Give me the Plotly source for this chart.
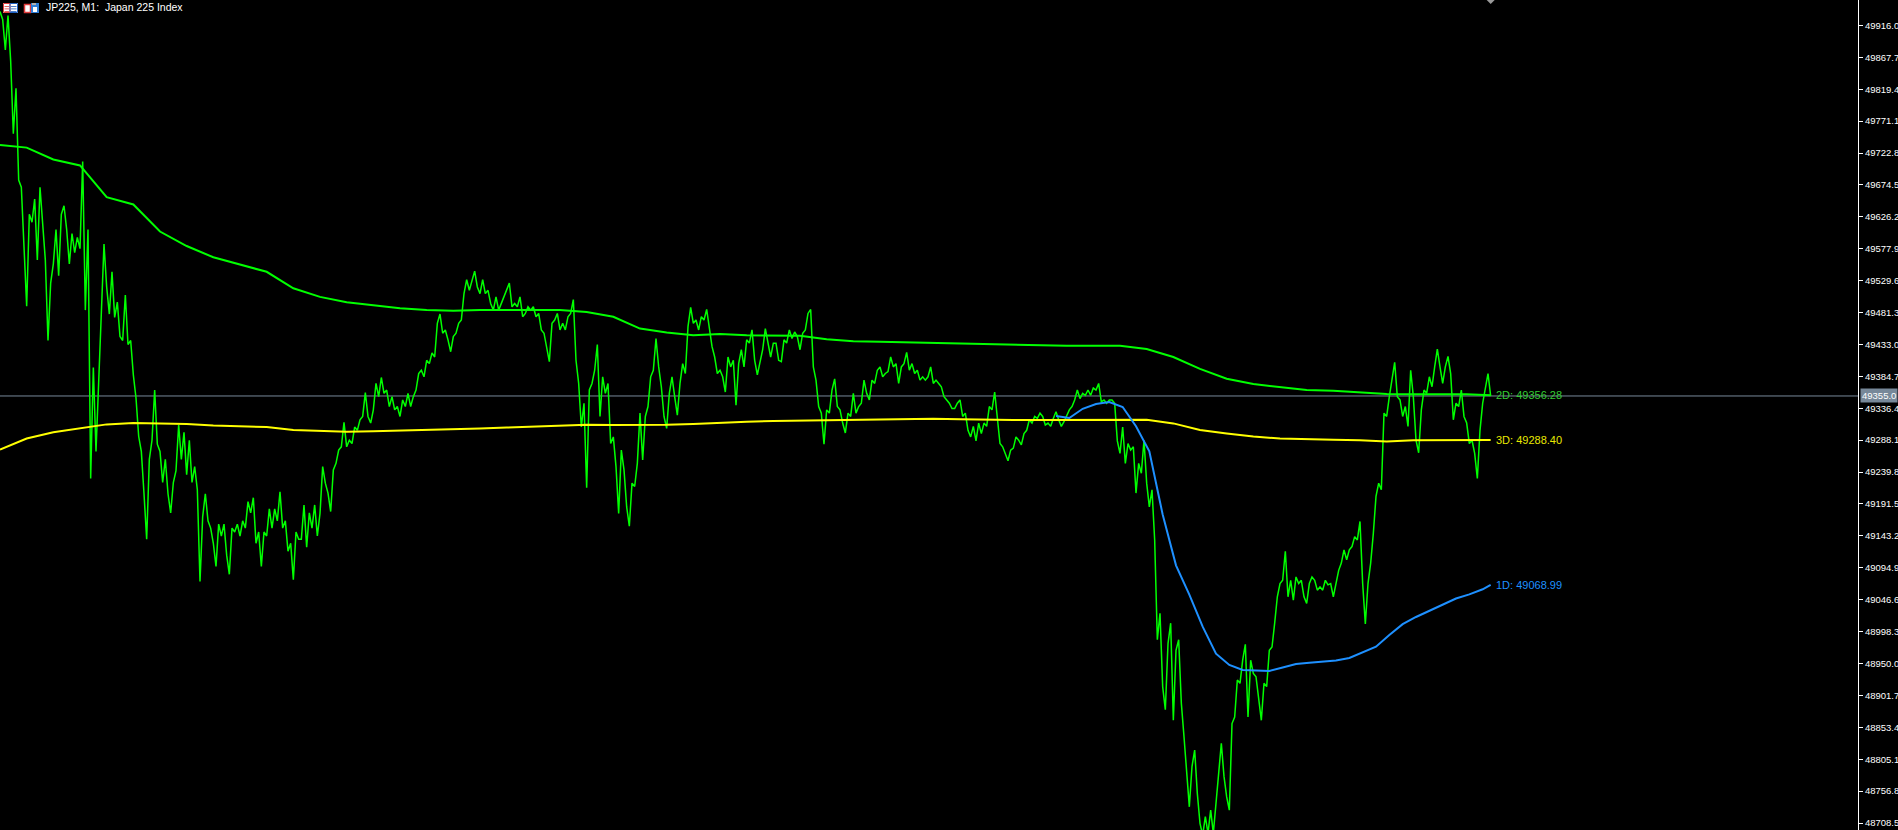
import plotly.graph_objects as go

# JP225 M1 line chart, MetaTrader look: black background, price scale on the right

close = [
    49937, 49925, 49879, 49931, 49862, 49752, 49821, 49682,
    49671, 49572, 49491, 49630, 49618, 49653, 49561, 49671,
    49607, 49561, 49439, 49526, 49555, 49607, 49537, 49630,
    49643, 49607, 49555, 49601, 49572, 49595, 49578, 49710,
    49485, 49607, 49230, 49398, 49271, 49381, 49462, 49585,
    49520, 49479, 49543, 49474, 49497, 49445, 49439, 49508,
    49433, 49439, 49387, 49352, 49294, 49271, 49207, 49138,
    49259, 49288, 49364, 49282, 49271, 49224, 49259, 49207,
    49178, 49224, 49242, 49311, 49259, 49300, 49236, 49288,
    49224, 49248, 49213, 49074, 49172, 49207, 49166, 49155,
    49132, 49097, 49161, 49143, 49161, 49114, 49085, 49155,
    49149, 49161, 49143, 49166, 49155, 49195, 49178, 49201,
    49132, 49149, 49097, 49149, 49143, 49184, 49155, 49184,
    49166, 49210, 49155, 49166, 49120, 49132, 49077, 49149,
    49138, 49138, 49190, 49126, 49178, 49155, 49190, 49143,
    # rally back towards the 2D line
    49177, 49248, 49223, 49208, 49180, 49243, 49253, 49273,
    49278, 49315, 49278, 49288, 49283, 49308, 49303, 49319,
    49324, 49360, 49324, 49314, 49334, 49374, 49354, 49383,
    49359, 49364, 49339, 49354, 49334, 49339, 49324, 49349,
    49339, 49359, 49339, 49354, 49364, 49389, 49394, 49384,
    49409, 49404, 49420, 49414, 49465, 49479, 49450, 49455,
    49440, 49422, 49445, 49450, 49465, 49470, 49510, 49531,
    49515, 49531, 49544, 49520, 49510, 49531, 49510, 49515,
    49495, 49485, 49505, 49485, 49495, 49505, 49515, 49526,
    49490, 49495, 49490, 49505, 49475, 49480, 49490, 49485,
    49490, 49475, 49480, 49455, 49450, 49430, 49407, 49465,
    49470, 49480, 49455, 49465, 49455, 49475, 49480, 49501,
    49409, 49374, 49308, 49344, 49216, 49364, 49374, 49394,
    49433, 49324, 49384, 49359, 49374, 49283, 49293, 49248,
    49177, 49273, 49243, 49187, 49158, 49223, 49218, 49253,
    49329, 49258, 49324, 49339, 49384, 49394, 49442, 49399,
    49369, 49324, 49306, 49359, 49384, 49354, 49326, 49374,
    49404, 49389, 49460, 49489, 49465, 49470, 49455,
    # sideways around the 3D line
    49475, 49470, 49486, 49460, 49430, 49414, 49389, 49394,
    49384, 49361, 49414, 49399, 49409, 49341, 49404, 49425,
    49399, 49440, 49435, 49455, 49409, 49387, 49409, 49425,
    49457, 49435, 49414, 49435, 49435, 49409, 49407, 49440,
    49435, 49455, 49442, 49452, 49445, 49425, 49450, 49455,
    49480, 49486, 49399, 49379, 49339, 49329, 49282, 49334,
    49329, 49364, 49381, 49339, 49334, 49314, 49299, 49329,
    49324, 49359, 49329, 49339, 49344, 49379, 49359, 49349,
    49379, 49374, 49394, 49399, 49384, 49389, 49392, 49414,
    49399, 49404, 49374, 49399, 49404, 49421, 49394, 49404,
    49389, 49394, 49379, 49384, 49379, 49384, 49399, 49374,
    49379, 49374, 49369, 49354, 49349, 49344, 49336, 49336,
    49344, 49349, 49324, 49329, 49303, 49293, 49309, 49287,
    49314, 49298, 49314, 49309, 49339, 49334, 49361, 49324,
    49283, 49278, 49268, 49257, 49273, 49276, 49293, 49288,
    49281, 49298, 49303, 49319, 49314, 49324, 49321, 49329,
    49324, 49311, 49314, 49309, 49321, 49331, 49319, 49309,
    49316, 49324, 49334, 49339, 49349, 49364, 49351, 49359,
    49356, 49364, 49356, 49367, 49364, 49374, 49346, 49349,
    49344, 49349, 49349, 49344, 49287,
    # sell-off and recovery
    49268, 49308, 49253, 49283, 49273, 49278, 49208, 49253,
    49238, 49288, 49223, 49187, 49213, 49137, 48986, 49026,
    48915, 48880, 48980, 49011, 48864, 48970, 48986, 48890,
    48839, 48779, 48733, 48794, 48819, 48753, 48708, 48690,
    48718, 48693, 48728, 48693, 48738, 48794, 48829, 48779,
    48748, 48728, 48859, 48869, 48925, 48920, 48955, 48979,
    48869, 48955, 48935, 48930, 48900, 48864, 48920, 48915,
    48970, 48975, 49011, 49051, 49071, 49076, 49120, 49051,
    49076, 49046, 49081, 49071, 49076, 49051, 49041, 49071,
    49081, 49076, 49061, 49066, 49061, 49076, 49069, 49071,
    49051, 49071, 49091, 49102, 49122, 49107, 49122, 49127,
    49142, 49137, 49165, 49071, 49010, 49071, 49102, 49147,
    49203, 49223,
    49213, 49329, 49324, 49354, 49384, 49406, 49354, 49349,
    49324, 49339, 49309, 49394, 49354, 49288, 49269, 49334,
    49364, 49359, 49384, 49369, 49399, 49426, 49399, 49374,
    49399, 49415, 49389, 49319, 49344, 49339, 49364, 49324,
    49314, 49283, 49288, 49268, 49230, 49303, 49344, 49369,
    49389, 49355,
]

# anchored vwap lines, one value every 10 bars (1D every 5 bars), last value = label
vwap_2d = [
    49735, 49731, 49713, 49704, 49656, 49645, 49604, 49582, 49565, 49554,
    49543, 49518, 49505, 49497, 49492, 49488, 49485, 49484, 49485, 49485,
    49485, 49485, 49482, 49475, 49457, 49451, 49447, 49449, 49447, 49446,
    49446, 49441, 49438, 49437, 49436, 49436, 49435, 49434, 49432, 49431,
    49431, 49431, 49431, 49426, 49414, 49396, 49381, 49373, 49368, 49364,
    49363, 49360, 49358, 49357.5, 49357.5, 49357.5, 49356.28,
]
vwap_3d = [
    49273.7, 49290.6, 49300.1, 49305.9, 49312.0, 49314.1, 49313.6, 49312.7,
    49310.4, 49309.1, 49307.9, 49303.5, 49302.6, 49300.9, 49301.5, 49302.3,
    49303.0, 49303.9, 49305.7, 49307.2, 49308.6, 49310.0, 49311.5, 49311.0,
    49310.7, 49311.3, 49312.7, 49314.8, 49316.0, 49317.1, 49317.7, 49318.3,
    49318.8, 49319.2, 49319.8, 49320.6, 49319.8, 49318.9, 49318.6, 49318.6,
    49318.6, 49318.6, 49319.2, 49318.9, 49313.5, 49303.5, 49298.2, 49293.5,
    49290.6, 49289.1, 49288.6, 49287.9, 49286.1, 49287.9, 49287.9, 49287.9,
    49288.40,
]
vwap_1d = [
    49324.7, 49321.6, 49335.6, 49342.8, 49345.9, 49338.3, 49309.1, 49271.2,
    49175.5, 49098.6, 49054.4, 49005.7, 48964.8, 48947.7, 48940.1, 48938.8,
    48938.6, 48943.9, 48949.2, 48951.2, 48952.7, 48954.5, 48958.3, 48967.3,
    48975.5, 48993.1, 49009.5, 49020.4, 49029.8, 49038.8, 49048.4, 49054.7,
    49062.3, 49068.99,
]

vwap_step = 10
vwap_1d_start = 396
vwap_1d_step = 5

bid = 49355.0
price_range = [48697.9, 49954.5]
tick_start = 48708.5
tick_step = 48.3
bars_visible = 696.75  # chart shift leaves empty space on the right

chart_title = "JP225, M1:  Japan 225 Index"

LIME = "#00ff00"
YELLOW = "#ffff00"
BLUE = "#1e90ff"
BID_GRAY = "#778899"
UI_FONT = "Liberation Sans, Arial, sans-serif"

bars = list(range(len(close)))
last_bar = bars[-1]


def line_x(values, start, step):
    return list(range(start, start + step * (len(values) - 1), step)) + [last_bar]


fig = go.Figure()

fig.add_trace(
    go.Scatter(
        x=bars, y=close, mode="lines",
        line=dict(color=LIME, width=1.5),
        hoverinfo="skip", showlegend=False,
    )
)

for values, start, step, color in [
    (vwap_3d, 0, vwap_step, YELLOW),
    (vwap_2d, 0, vwap_step, LIME),
    (vwap_1d, vwap_1d_start, vwap_1d_step, BLUE),
]:
    fig.add_trace(
        go.Scatter(
            x=line_x(values, start, step), y=values, mode="lines",
            line=dict(color=color, width=2),
            hoverinfo="skip", showlegend=False,
        )
    )

# bid line
fig.add_shape(
    type="line", xref="paper", x0=0, x1=1, yref="y", y0=bid, y1=bid,
    line=dict(color=BID_GRAY, width=1), layer="below",
)

# vwap labels at the last bar
for name, values, color in [
    ("2D", vwap_2d, "#33cc33"),
    ("3D", vwap_3d, "#e8e800"),
    ("1D", vwap_1d, BLUE),
]:
    fig.add_annotation(
        x=last_bar, y=values[-1], text=f"{name}: {values[-1]:.2f}",
        xanchor="left", xshift=3, showarrow=False,
        font=dict(family=UI_FONT, size=11, color=color),
    )

# bid price tag on the scale
fig.add_annotation(
    xref="paper", x=1, y=bid, text=f"{bid:.1f}",
    xanchor="left", xshift=2, showarrow=False,
    bgcolor=BID_GRAY, borderpad=1,
    font=dict(family=UI_FONT, size=9.5, color="#ffffff"),
)

# title + the two little toolbar icons
fig.add_annotation(
    xref="paper", yref="paper", x=0, y=1, xshift=44, yshift=1,
    xanchor="left", yanchor="top", text=chart_title, showarrow=False,
    font=dict(family=UI_FONT, size=10.5, color="#ffffff"),
)


def icon_rect(x0, y0, x1, y1, **kw):
    fig.add_shape(
        type="rect", xref="paper", xsizemode="pixel", xanchor=0,
        yref="paper", ysizemode="pixel", yanchor=1,
        x0=x0, x1=x1, y0=-y0, y1=-y1, **kw,
    )


icon_rect(3, 3, 18, 13, fillcolor="#ffffff", line=dict(width=0))
icon_rect(3.5, 3.5, 10, 12.5, line=dict(color="#e03c3c", width=1))
icon_rect(10, 3.5, 17.5, 12.5, line=dict(color="#1f5fbf", width=1))
for yy in (6, 8.5, 11):
    icon_rect(4.5, yy, 9, yy + 0.8, fillcolor="#e03c3c", line=dict(width=0))
    icon_rect(11, yy, 16.5, yy + 0.8, fillcolor="#1f5fbf", line=dict(width=0))

icon_rect(24.5, 4.5, 30.5, 12.5, fillcolor="#ffffff", line=dict(color="#e03c3c", width=1.5))
icon_rect(31, 3, 39, 13, fillcolor="#2f7fd8", line=dict(width=0))
icon_rect(33, 7, 37, 12, fillcolor="#ffffff", line=dict(width=0))
icon_rect(32, 3, 36, 5, fillcolor="#b0b0b0", line=dict(width=0))

# chart shift marker at the top
fig.add_shape(
    type="path", xref="x", xsizemode="pixel", xanchor=last_bar,
    yref="paper", ysizemode="pixel", yanchor=1,
    path="M -4 0 L 4 0 L 0 -4 Z", fillcolor="#9a9a9a", line=dict(width=0),
)

fig.update_layout(
    template="none",
    width=1898,
    height=830,
    margin=dict(l=0, r=40, t=0, b=0, pad=0),
    paper_bgcolor="#000000",
    plot_bgcolor="#000000",
    font=dict(family=UI_FONT, color="#ffffff"),
    hovermode=False,
    showlegend=False,
    xaxis=dict(
        visible=False, range=[0, bars_visible],
        showgrid=False, zeroline=False, fixedrange=True,
    ),
    yaxis=dict(
        side="right", range=price_range,
        tick0=tick_start, dtick=tick_step, tickformat=".1f",
        ticks="outside", ticklen=4, tickwidth=1, tickcolor="#ffffff",
        showline=True, linecolor="#ffffff", linewidth=1,
        showgrid=False, zeroline=False, automargin=False,
        tickfont=dict(family=UI_FONT, size=9.5, color="#ffffff"),
    ),
)

fig.write_html(
    "out.html",
    config={"displayModeBar": False},
    post_script="document.body.style.margin='0';document.body.style.overflow='hidden';",
)
